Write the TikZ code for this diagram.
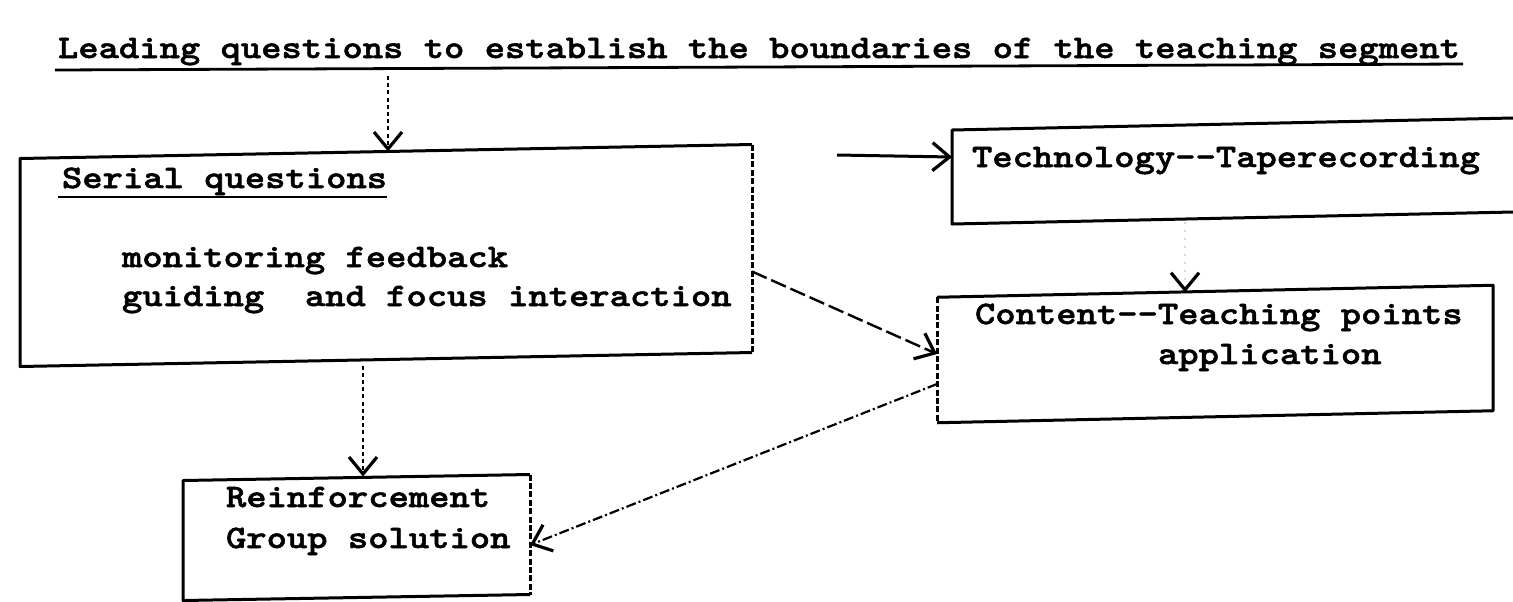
\documentclass[tikz,border=0pt]{standalone}
\usepackage{fontspec}
\usetikzlibrary{arrows.meta,calc}
\newfontfamily\twfont[Extension=.otf, FakeStretch=1.18, FakeBold=1.6]{lmmonolt10-bold}
\newcommand\tw[1]{{\fontsize{16.4pt}{18pt}\selectfont\twfont #1}}
\tikzset{
  txt/.style={inner sep=0pt, outer sep=0pt, anchor=base west},
  boxn/.style={rectangle, inner sep=0pt, outer sep=0pt},
  boxline/.style={line width=1.5pt, line join=round},
  broken/.style={line width=1.5pt, dash pattern=on 3pt off 1.2pt},
  barbtip/.style={-{Straight Barb[length=8.5pt,width=14pt,line width=1.6pt]}},
  dotc/.style={barbtip, line width=1.3pt, dash pattern=on 2pt off 1.6pt},
  dashc/.style={barbtip, line width=1.2pt, dash pattern=on 8pt off 2.5pt},
  dashdotc/.style={barbtip, line width=1.1pt, dash pattern=on 5pt off 1.5pt on 1pt off 1.5pt},
  solidc/.style={barbtip, line width=1.5pt},
  faintc/.style={-{Straight Barb[length=8.5pt,width=14pt,line width=1.6pt,color=black]}, line width=0.6pt, draw=black!15, dash pattern=on 1pt off 3pt},
}
\begin{document}
\begin{tikzpicture}[x=0.5pt,y=-0.5pt]
\useasboundingbox (0,0) rectangle (1513,601);

% title
\node[txt] (title) at (58,58) {\tw{Leading questions to establish the boundaries of the teaching segment}};
\draw[line width=1.4pt] ([xshift=-1.5pt,yshift=-6pt]title.base west) -- ([xshift=1.5pt,yshift=-3pt]title.base east);

% boxes (invisible anchors, outlines drawn with the scan's slight tilt)
\node[boxn, minimum width=366pt, minimum height=104pt] (serial) at (386,255.5) {};
\node[boxn, minimum width=280.5pt, minimum height=47pt] (tech) at (1232.5,171) {};
\node[boxn, minimum width=278pt, minimum height=62.75pt] (content) at (1215,354) {};
\node[boxn, minimum width=173.5pt, minimum height=60pt] (reinf) at (356.5,537.5) {};

\draw[boxline] ($(serial.north east)+(0,-7)$) -- ($(serial.north west)+(0,7)$) -- ($(serial.south west)+(0,7)$) -- ($(serial.south east)+(0,-7)$);
\draw[broken] ($(serial.north east)+(0,-7)$) -- ($(serial.south east)+(0,-7)$);

\draw[boxline] ($(tech.north east)+(0,-6)$) -- ($(tech.north west)+(0,6)$) -- ($(tech.south west)+(0,6)$) -- ($(tech.south east)+(0,-6)$);

\draw[boxline] ($(content.north west)+(0,6)$) -- ($(content.north east)+(0,-6)$) -- ($(content.south east)+(0,-6)$) -- ($(content.south west)+(0,6)$);
\draw[broken] ($(content.north west)+(0,6)$) -- ($(content.south west)+(0,6)$);

\draw[boxline] ($(reinf.north east)+(0,-3)$) -- ($(reinf.north west)+(0,3)$) -- ($(reinf.south west)+(0,3)$) -- ($(reinf.south east)+(0,-3)$);
\draw[broken] ($(reinf.north east)+(0,-3)$) -- ($(reinf.south east)+(0,-3)$);

% texts
\node[txt] (serialt) at (62,188) {\tw{Serial questions}};
\draw[line width=1.3pt] ([xshift=-2pt,yshift=-4.5pt]serialt.base west) -- ([yshift=-4.5pt]serialt.base east);
\node[txt] (mon) at (122,267) {\tw{monitoring feedback}};
\node[txt] (gui) at (122,306) {\tw{guiding\ \ and focus interaction}};
\node[txt] (techt) at (972,167) {\tw{Technology--Taperecording}};
\node[txt] (cont1) at (975,324) {\tw{Content--Teaching points}};
\node[txt] (cont2) at (1158,364) {\tw{application}};
\node[txt] (rein1) at (226,507) {\tw{Reinforcement}};
\node[txt] (rein2) at (226,548) {\tw{Group solution}};

% connectors
\coordinate (tstart) at (388,76);
\draw[dotc] (tstart) -- (tstart |- serial.north);
\draw[dotc] ($(serial.south)+(-23,6)$) -- ($(reinf.north)+(6.5,-1)$);
\draw[dashc] ([yshift=-8pt]serial.east) -- (content.west);
\draw[dashdotc] ([yshift=-15pt]content.west) -- ([yshift=-3.75pt]reinf.east);
\coordinate (techsrc) at (837,155);
\draw[solidc] (techsrc) -- ([yshift=7pt]tech.west);
\draw[faintc] ($(tech.south)+(-47.5,4)$) -- ($(content.north)+(-30,1)$);
\end{tikzpicture}
\end{document}
